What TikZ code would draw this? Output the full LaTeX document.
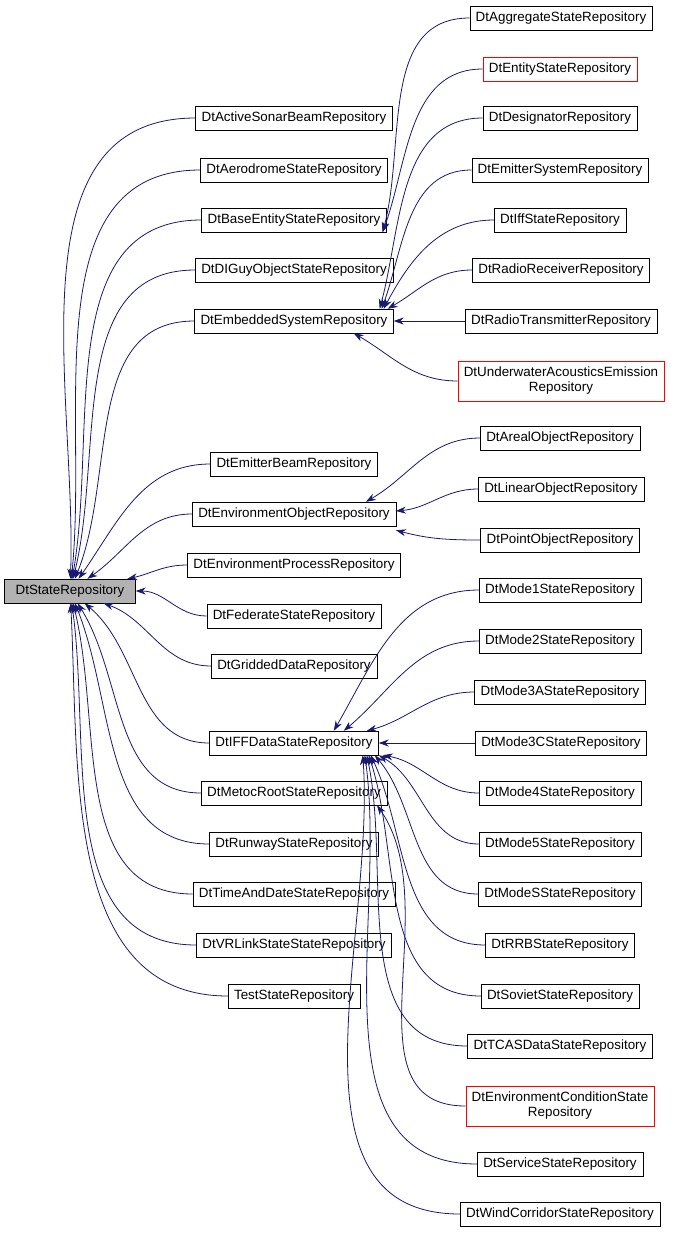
\documentclass[tikz,border=0pt]{standalone}
\usepackage{fontspec}
\setmainfont{Liberation Sans}
\usetikzlibrary{arrows.meta}
\definecolor{navy}{HTML}{191970}
\tikzset{cls/.style={shape=rectangle, draw=black, fill=white, minimum height=24pt,
                     inner xsep=6pt, font=\fontsize{13.4}{15}\selectfont},
         bad/.style={cls, draw=red},
         two/.style={cls, align=center, minimum height=40pt},
         inh/.style={->, draw=navy, thick, >={Stealth[length=10pt,width=7pt]}}}
\begin{document}
\begin{tikzpicture}[x=1pt,y=-1pt]
\useasboundingbox (0,0) rectangle (675,1235);
% base
\node[cls, fill=black!30, minimum width=131pt] (root) at (70,591) {DtStateRepository};

% second column
\node[cls] (sonar)   at (294,118) {DtActiveSonarBeamRepository};
\node[cls] (aero)    at (294,170) {DtAerodromeStateRepository};
\node[cls] (base)    at (294,220) {DtBaseEntityStateRepository};
\node[cls] (diguy)   at (294,270) {DtDIGuyObjectStateRepository};
\node[cls] (emb)     at (294,321) {DtEmbeddedSystemRepository};
\node[cls] (ebeam)   at (294,464) {DtEmitterBeamRepository};
\node[cls] (envobj)  at (294,514) {DtEnvironmentObjectRepository};
\node[cls] (envproc) at (294,565) {DtEnvironmentProcessRepository};
\node[cls] (fed)     at (294,616) {DtFederateStateRepository};
\node[cls] (grid)    at (294,666) {DtGriddedDataRepository};
\node[cls] (iff)     at (294,743) {DtIFFDataStateRepository};
\node[cls] (metoc)   at (294,793) {DtMetocRootStateRepository};
\node[cls] (runway)  at (294,844) {DtRunwayStateRepository};
\node[cls] (tod)     at (294,894) {DtTimeAndDateStateRepository};
\node[cls] (vrl)     at (294,945) {DtVRLinkStateStateRepository};
\node[cls] (test)    at (294,996) {TestStateRepository};

% third column
\node[cls] (aggr)   at (561,18)  {DtAggregateStateRepository};
\node[bad] (ent)    at (560,69)  {DtEntityStateRepository};
\node[cls] (desig)  at (560,118) {DtDesignatorRepository};
\node[cls] (emsys)  at (560,170) {DtEmitterSystemRepository};
\node[cls] (iffst)  at (560,220) {DtIffStateRepository};
\node[cls] (rrecv)  at (561,270) {DtRadioReceiverRepository};
\node[cls] (rtrans) at (561,321) {DtRadioTransmitterRepository};
\node[two, draw=red] (uwa) at (561,381) {DtUnderwaterAcousticsEmission\\Repository};
\node[cls] (areal)  at (560,438) {DtArealObjectRepository};
\node[cls] (linear) at (561,489) {DtLinearObjectRepository};
\node[cls] (point)  at (560,540) {DtPointObjectRepository};
\node[cls] (m1)     at (560,590) {DtMode1StateRepository};
\node[cls] (m2)     at (560,641) {DtMode2StateRepository};
\node[cls] (m3a)    at (560,692) {DtMode3AStateRepository};
\node[cls] (m3c)    at (561,743) {DtMode3CStateRepository};
\node[cls] (m4)     at (560,793) {DtMode4StateRepository};
\node[cls] (m5)     at (560,844) {DtMode5StateRepository};
\node[cls] (ms)     at (560,894) {DtModeSStateRepository};
\node[cls] (rrb)    at (560,945) {DtRRBStateRepository};
\node[cls] (sov)    at (560,996) {DtSovietStateRepository};
\node[cls] (tcas)   at (560,1046) {DtTCASDataStateRepository};
\node[two, draw=red] (envc) at (560,1106) {DtEnvironmentConditionState\\Repository};
\node[cls] (serv)   at (560,1164) {DtServiceStateRepository};
\node[cls] (wind)   at (560,1214) {DtWindCorridorStateRepository};

% inheritance into the base class
\foreach \c/\a in {sonar/88,aero/84,base/80,diguy/76,emb/68,ebeam/55,envobj/35,envproc/12,
                   fed/0,grid/-20,iff/-40,metoc/-58,runway/-68,tod/-76,vrl/-82,test/-87}
  \path (\c.west) edge[inh, out=180, in=\a] (root);

% embedded systems and entities
\foreach \c/\a in {aggr/75,ent/70}
  \path (\c.west) edge[inh, out=180, in=\a] ([xshift=-4pt]base.south east);
\foreach \c/\s/\a in {desig/-14/75,emsys/-12/70,iffst/-10/62,rrecv/-6/30}
  \path (\c.west) edge[inh, out=180, in=\a] ([xshift=\s pt]emb.north east);
\path (rtrans.west) edge[inh] (emb.east);
\path (uwa.west) edge[inh, out=180, in=-30] ([xshift=-40pt]emb.south east);

% environment objects
\path (areal.west) edge[inh, out=180, in=30] ([xshift=-30pt]envobj.north east)
      (linear.west) edge[inh, out=180, in=5] ([yshift=3pt]envobj.east)
      (point.west) edge[inh, out=180, in=-15] ([yshift=-4pt]envobj.south east);

% iff modes
\foreach \c/\s/\a in {m1/-45/60,m2/-35/40,m3a/-12/15}
  \path (\c.west) edge[inh, out=180, in=\a] ([xshift=\s pt]iff.north east);
\path (m3c.west) edge[inh] (iff.east);
\foreach \c/\s/\a in {m4/4/-10,m5/0/-30,ms/-4/-50,rrb/-8/-65,sov/-10/-72,
                      tcas/-12/-78,serv/-14/-82,wind/-16/-86}
  \path (\c.west) edge[inh, out=180, in=\a] ([xshift=\s pt]iff.south east);
\path (envc.west) edge[inh, out=180, in=-55] ([xshift=-10pt]metoc.south east);
\end{tikzpicture}
\end{document}
